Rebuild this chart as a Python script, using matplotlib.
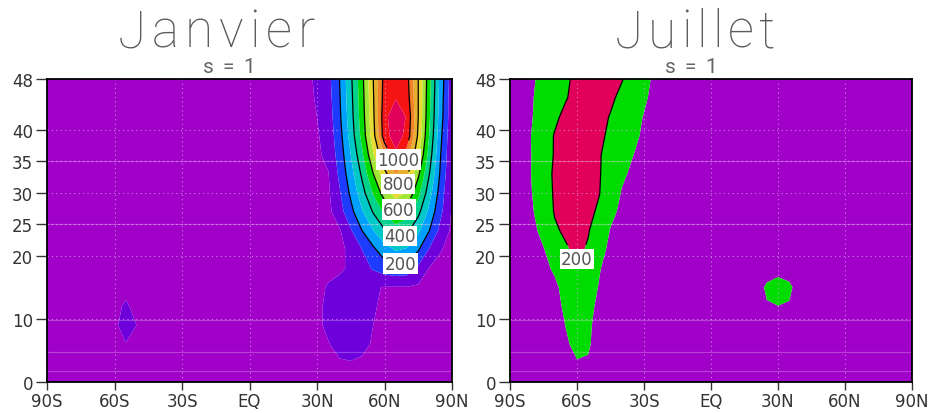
import numpy as np
import matplotlib
matplotlib.use("Agg")
import matplotlib.pyplot as plt

# grid of the zonal-mean field (latitude x height)
lats = np.arange(-90, 91, 5)
heights = np.arange(0, 49, 3)

# Janvier: plume over the northern high latitudes, lats 25N..90N, heights 0..48
jan_core_lats = [25, 30, 35, 40, 45, 50, 55, 60, 65, 70, 75, 80, 85, 90]
jan_core = [
    [-30, -30, -30, -30, -30, -30, -30, -30, -30, -30, -30, -30, -30, -30],
    [-30, -30, -30, -10, -5, -15, -30, -30, -30, -30, -30, -30, -30, -30],
    [-30, -30, -5, 30, 40, 25, -10, -30, -30, -30, -30, -30, -30, -30],
    [-30, -20, 20, 50, 60, 50, 0, -30, -30, -30, -30, -30, -30, -30],
    [-30, -20, 20, 50, 60, 50, 10, -20, -30, -30, -30, -30, -30, -30],
    [-30, -30, 10, 40, 50, 40, 10, -5, -5, -5, -15, -25, -30, -30],
    [-30, -30, -30, -20, 20, 60, 110, 150, 170, 160, 80, -5, -25, -30],
    [-30, -30, -30, -20, 20, 100, 180, 260, 310, 290, 210, 90, 5, -30],
    [-30, -30, -30, -10, 90, 200, 300, 390, 450, 420, 320, 200, 70, -20],
    [-30, -30, -25, 60, 170, 290, 410, 520, 600, 550, 430, 270, 120, -10],
    [-30, -20, -15, 90, 220, 360, 510, 650, 750, 690, 530, 340, 150, -10],
    [-30, -20, -5, 120, 260, 420, 600, 770, 900, 820, 620, 400, 180, 0],
    [-30, -20, 30, 140, 300, 480, 690, 900, 1080, 950, 720, 450, 200, 10],
    [-30, -10, 40, 160, 340, 530, 760, 1060, 1150, 1070, 780, 490, 220, 20],
    [-30, 0, 50, 180, 360, 550, 780, 1070, 1170, 1090, 800, 510, 240, 30],
    [-30, 10, 60, 190, 370, 560, 790, 1050, 1095, 1050, 800, 520, 250, 30],
    [-30, 20, 70, 200, 380, 570, 800, 1040, 1080, 1030, 800, 530, 260, 40],
]
# small southern blob, lats 60S..50S, heights 6..12
jan_blob_lats = [-60, -55, -50]
jan_blob_z = [6, 9, 12]
jan_blob = [
    [-30, -5, -30],
    [-28, 60, -3],
    [-30, 15, -30],
]
jan_background = -30

# Juillet: plume over the southern high latitudes, lats 90S..20S
jul_core_lats = [-90, -85, -80, -75, -70, -65, -60, -55, -50, -45, -40, -35, -30, -25, -20]
jul_core = [
    [40, 40, 40, 40, 40, 45, 60, 55, 45, 40, 40, 40, 40, 40, 40],
    [40, 40, 40, 40, 50, 70, 95, 92, 60, 45, 40, 40, 40, 40, 40],
    [40, 40, 40, 40, 60, 90, 120, 110, 65, 48, 40, 40, 40, 40, 40],
    [40, 40, 40, 45, 70, 102, 130, 115, 70, 50, 40, 40, 40, 40, 40],
    [40, 40, 40, 50, 75, 115, 140, 125, 80, 55, 45, 40, 40, 40, 40],
    [40, 40, 45, 55, 80, 135, 160, 135, 95, 60, 50, 45, 42, 40, 40],
    [40, 45, 55, 75, 115, 165, 185, 165, 105, 70, 55, 45, 42, 40, 40],
    [40, 50, 65, 95, 150, 192, 215, 192, 130, 80, 60, 50, 45, 42, 40],
    [40, 55, 75, 130, 190, 212, 218, 205, 160, 95, 70, 55, 45, 42, 40],
    [40, 65, 92, 155, 205, 222, 226, 215, 190, 125, 80, 60, 50, 45, 40],
    [40, 70, 101, 165, 208, 228, 232, 222, 202, 160, 95, 70, 55, 45, 40],
    [40, 68, 104, 170, 210, 232, 238, 228, 204, 170, 115, 85, 65, 50, 40],
    [40, 68, 103, 165, 205, 230, 240, 230, 205, 175, 135, 102, 75, 55, 40],
    [40, 65, 105, 160, 205, 230, 240, 235, 215, 185, 155, 118, 88, 60, 40],
    [40, 65, 98, 145, 185, 220, 240, 240, 225, 195, 165, 135, 95, 60, 40],
    [40, 60, 95, 135, 170, 195, 225, 245, 240, 215, 180, 150, 115, 70, 40],
    [40, 60, 90, 125, 160, 190, 215, 240, 250, 240, 205, 170, 130, 80, 40],
]
# small blob near 30N, heights 12..18
jul_blob_lats = [25, 30, 35]
jul_blob_z = [12, 15, 18]
jul_blob = [
    [90, 98, 90],
    [120, 170, 125],
    [40, 40, 40],
]
jul_background = 40

# shading levels and colours
jan_levels = [-100, 0, 100, 200, 300, 400, 500, 600, 700, 800, 900, 1000, 1100, 1300]
jan_colors = ['#a000c8', '#6e00dc', '#1e3cff', '#00a0ff', '#00c8c8', '#00d28c',
              '#00dc00', '#a0e632', '#e6dc32', '#e6af2d', '#f08228', '#f51414', '#e1005a']
jan_lines = [200, 400, 600, 800, 1000]
jul_levels = [0, 100, 200, 400]
jul_colors = ['#a000c8', '#00dc00', '#e1005a']
jul_lines = [200]

yticks = [0, 10, 20, 25, 30, 35, 40, 48]
xticks = [-90, -60, -30, 0, 30, 60, 90]
xticklabels = ['90S', '60S', '30S', 'EQ', '30N', '60N', '90N']
faint_levels = [1.8, 4.8, 9.8, 25, 35]

W, H = 931, 414


def build_field(background, patches):
    field = np.full((len(heights), len(lats)), float(background))
    for patch, p_lats, p_z in patches:
        i0 = int(np.searchsorted(heights, p_z[0]))
        j0 = int(np.searchsorted(lats, p_lats[0]))
        arr = np.array(patch, dtype=float)
        field[i0:i0 + arr.shape[0], j0:j0 + arr.shape[1]] = arr
    return field


def draw_panel(ax, field, levels, colors, line_levels, label_pos):
    ax.contourf(lats, heights, field, levels=levels, colors=colors, antialiased=True)
    for y in faint_levels:
        ax.axhline(y, color='white', lw=0.9, alpha=0.25, zorder=2)
    cs = ax.contour(lats, heights, field, levels=line_levels, colors='black', linewidths=0.9)
    labels = ax.clabel(cs, line_levels, fmt='%d', fontsize=12, colors='#555555',
                       manual=label_pos, inline=True, inline_spacing=1)
    for t in labels:
        t.set_rotation(0)
        t.set_bbox(dict(boxstyle='square,pad=0.08', facecolor='white', edgecolor='none'))
    ax.set_xlim(-90, 90)
    ax.set_ylim(0, 48)
    ax.set_xticks(xticks)
    ax.set_xticklabels(xticklabels)
    ax.set_yticks(yticks)
    ax.grid(True, color='#d8a0f0', linestyle=(0, (1, 3)), linewidth=0.8, alpha=0.8)
    ax.tick_params(axis='y', length=8, width=1, color='#333333', labelsize=12,
                   labelcolor='#333333', pad=2)
    ax.tick_params(axis='x', length=6, width=1, color='#333333', labelsize=12,
                   labelcolor='#333333', pad=1)
    for s in ax.spines.values():
        s.set_linewidth(1.3)
        s.set_color('black')


def spaced_text(fig, left_px, baseline_px, s, span_px, size, **kw):
    # letters spread out to a given width, like the plotting package's stroke font
    r = fig.canvas.get_renderer()
    texts = [fig.text(0, 0, ch, fontsize=size, ha='left', va='baseline', **kw) for ch in s]
    widths = [t.get_window_extent(r).width for t in texts]
    gap = (span_px - sum(widths)) / (len(s) - 1)
    x = left_px
    for t, w in zip(texts, widths):
        t.set_position((x / W, 1 - baseline_px / H))
        x += w + gap


jan_field = build_field(jan_background, [(jan_core, jan_core_lats, list(heights)),
                                         (jan_blob, jan_blob_lats, jan_blob_z)])
jul_field = build_field(jul_background, [(jul_core, jul_core_lats, list(heights)),
                                         (jul_blob, jul_blob_lats, jul_blob_z)])

fig = plt.figure(figsize=(W / 100, H / 100), dpi=100)
ax1 = fig.add_axes([47 / W, 1 - 383 / H, 405 / W, 303 / H])
ax2 = fig.add_axes([510 / W, 1 - 383 / H, 402 / W, 303 / H])

draw_panel(ax1, jan_field, jan_levels, jan_colors, jan_lines,
           [(67, 19), (67, 23), (67, 27), (67, 31), (67, 35)])
draw_panel(ax2, jul_field, jul_levels, jul_colors, jul_lines, [(-60, 19.5)])

title_font = dict(family=['Roboto', 'DejaVu Sans'], weight='light', color='#5a5a5a')
sub_font = dict(family=['Roboto', 'DejaVu Sans'], weight='normal', color='#666666')
spaced_text(fig, 118, 47, 'Janvier', 197, 37, **title_font)
spaced_text(fig, 203, 73, 's=1', 52, 15, **sub_font)
spaced_text(fig, 615, 47, 'Juillet', 160, 37, **title_font)
spaced_text(fig, 665, 73, 's=1', 52, 15, **sub_font)

fig.savefig('out.png', dpi=100)
